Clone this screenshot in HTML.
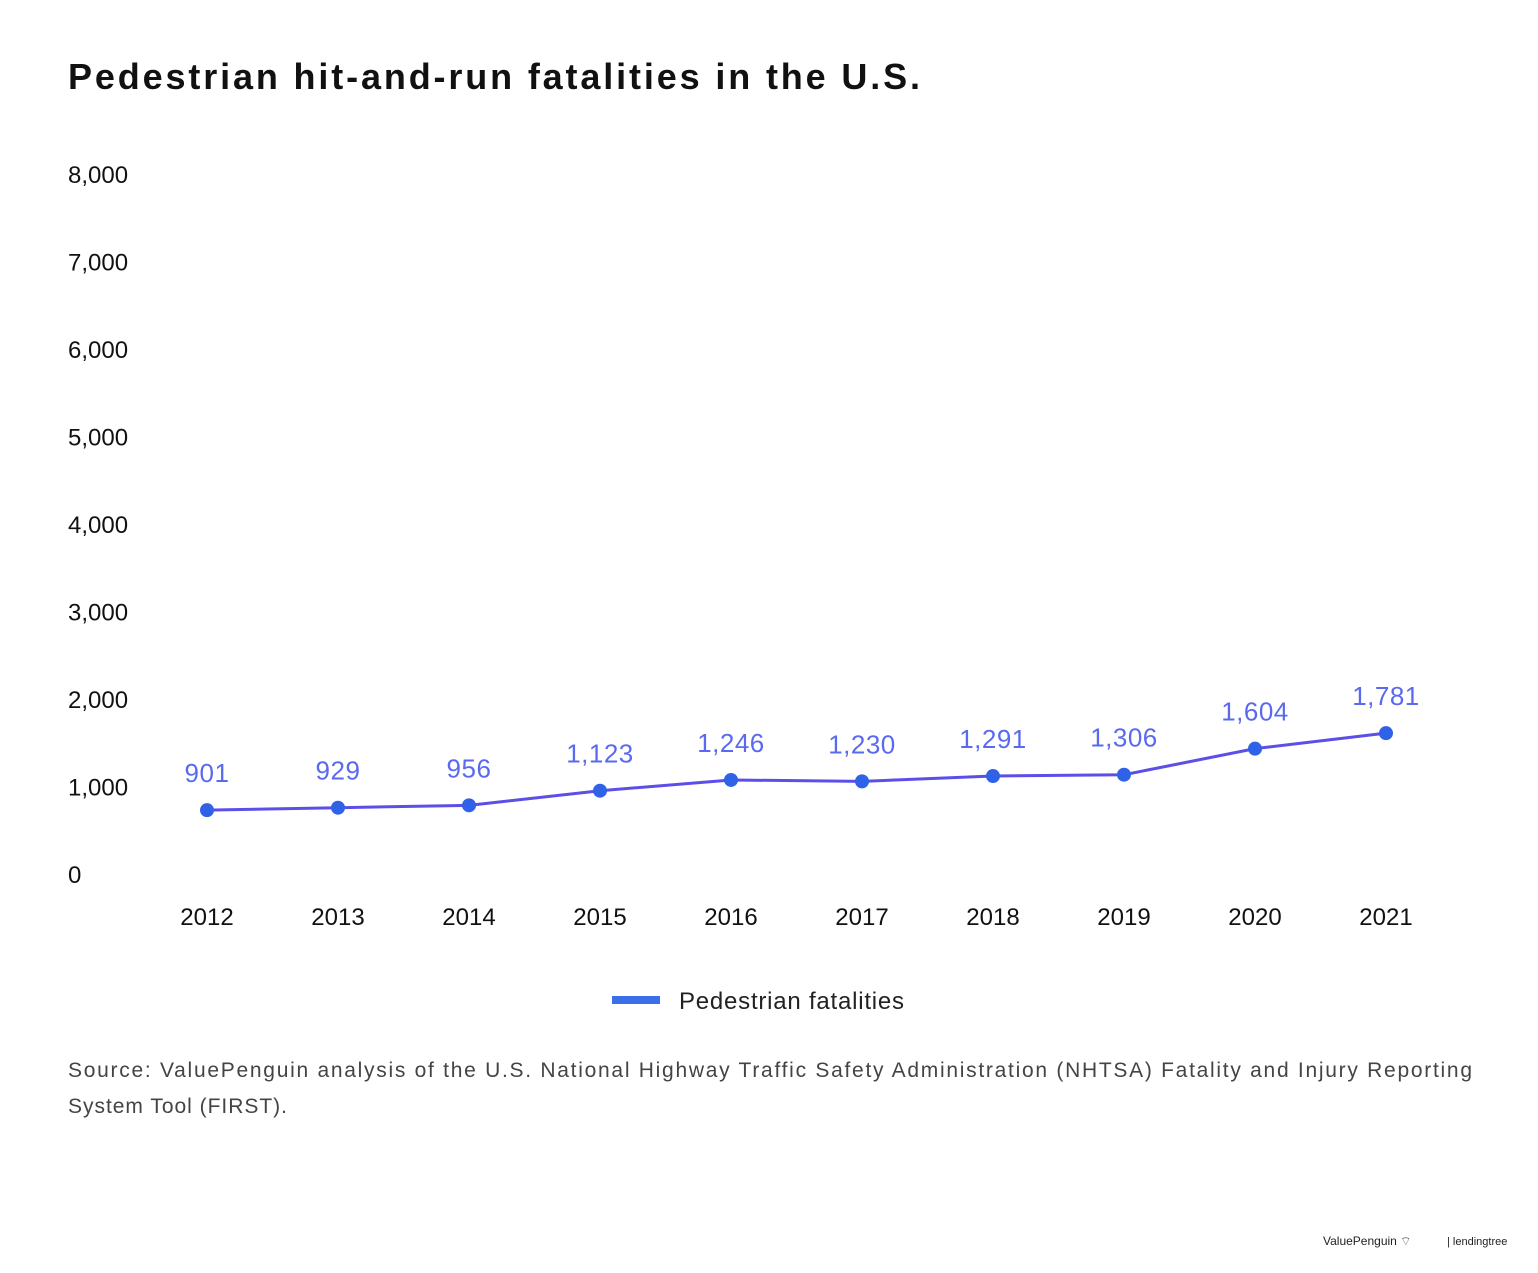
<!DOCTYPE html>
<html><head><meta charset="utf-8"><style>
body{margin:0;background:#fff;font-family:"Liberation Sans",sans-serif;}
</style></head><body>
<svg width="1538" height="1268" xmlns="http://www.w3.org/2000/svg">
<text x="68" y="89" font-size="36" font-weight="bold" fill="#111" textLength="852" lengthAdjust="spacing">Pedestrian hit-and-run fatalities in the U.S.</text>
<g id="yaxis"></g>
<g id="xaxis"></g>
<g id="series"></g>
<g>
<rect x="612" y="996" width="48" height="8" fill="#3a6fe8"/>
<text x="679" y="1009" font-size="24" fill="#222" textLength="225" lengthAdjust="spacing">Pedestrian fatalities</text>
</g>
<text x="68" y="1077" font-size="21" fill="#444" textLength="1404" lengthAdjust="spacing">Source: ValuePenguin analysis of the U.S. National Highway Traffic Safety Administration (NHTSA) Fatality and Injury Reporting</text>
<text x="68" y="1113" font-size="21" fill="#444" textLength="219" lengthAdjust="spacing">System Tool (FIRST).</text>
<text x="1323" y="1245" font-size="12" fill="#222">ValuePenguin ⌔</text>
<text x="1447" y="1245" font-size="11" fill="#222">| lendingtree</text>
</svg>
<script>
const years=["2012","2013","2014","2015","2016","2017","2018","2019","2020","2021"];
const values=[901,929,956,1123,1246,1230,1291,1306,1604,1781];
const yTicks=[0,1000,2000,3000,4000,5000,6000,7000,8000];
const NS="http://www.w3.org/2000/svg";
const x=i=>207+i*131;
const y=v=>889-v*0.0875;
function mk(t,a,p,txt){const e=document.createElementNS(NS,t);for(const k in a)e.setAttribute(k,a[k]);if(txt!==undefined)e.textContent=txt;p.appendChild(e);return e;}
const ya=document.getElementById('yaxis'),xa=document.getElementById('xaxis'),s=document.getElementById('series');
yTicks.forEach(v=>{const e=mk('text',{x:68,y:y(v)-6,'font-size':24,fill:'#111'},ya,v.toLocaleString('en-US'));

});
years.forEach((yr,i)=>{const e=mk('text',{x:x(i),y:925,'font-size':24,fill:'#111','text-anchor':'middle'},xa,yr);

});
const line=mk('polyline',{points:values.map((v,i)=>x(i)+','+y(v)).join(' '),fill:'none',stroke:'#5b4fe8','stroke-width':3},s);


values.forEach((v,i)=>{const c=mk('circle',{cx:x(i),cy:y(v),r:7,fill:'#2f62e6'},s);


const t=mk('text',{x:x(i),y:y(v)-28,'font-size':26,fill:'#5a6af0','text-anchor':'middle','letter-spacing':'0.5'},s,v.toLocaleString('en-US'));

});
</script>
</body></html>
